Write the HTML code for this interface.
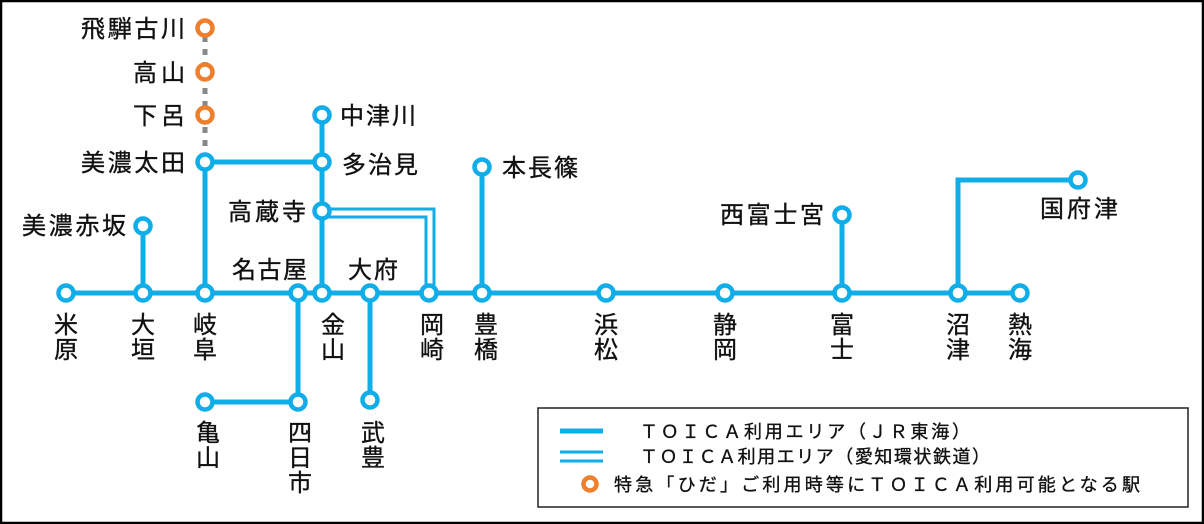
<!DOCTYPE html>
<html><head><meta charset="utf-8"><style>
html,body{margin:0;padding:0;background:#fff}
svg{display:block}
text{font-family:"Liberation Sans","Noto Sans CJK JP",sans-serif;fill:#111;stroke:#111;stroke-width:0.35}
</style></head><body>
<svg width="1204" height="524" viewBox="0 0 1204 524" xmlns="http://www.w3.org/2000/svg">
<rect x="1" y="1" width="1202" height="522" fill="#fff" stroke="#000" stroke-width="2.5"/>
<g stroke="#888" stroke-width="5" stroke-dasharray="6,7" fill="none">
<line x1="205" y1="36" x2="205" y2="155"/>
</g>
<g stroke="#10aee8" stroke-width="5" fill="none" stroke-linejoin="miter">
<line x1="66" y1="293" x2="1020" y2="293"/>
<line x1="143" y1="226" x2="143" y2="293"/>
<polyline points="205,293 205,162 322,162"/>
<line x1="322" y1="115" x2="322" y2="293"/>
<line x1="482" y1="167" x2="482" y2="293"/>
<line x1="842" y1="215" x2="842" y2="293"/>
<polyline points="958,293 958,180 1078,180"/>
<line x1="298" y1="293" x2="298" y2="402"/>
<line x1="298" y1="402" x2="205" y2="402"/>
<line x1="370" y1="293" x2="370" y2="400"/>
</g>
<g stroke="#10aee8" stroke-width="3" fill="none">
<polyline points="322,209 434,209 434,293"/>
<polyline points="322,217 426,217 426,293"/>
</g>
<g fill="#fff" stroke="#10aee8" stroke-width="4.5">
<circle cx="66" cy="293" r="7.5"/><circle cx="143" cy="293" r="7.5"/><circle cx="205" cy="293" r="7.5"/>
<circle cx="298" cy="293" r="7.5"/><circle cx="322" cy="293" r="7.5"/><circle cx="370" cy="293" r="7.5"/>
<circle cx="429" cy="293" r="7.5"/><circle cx="482" cy="293" r="7.5"/><circle cx="606" cy="293" r="7.5"/>
<circle cx="725" cy="293" r="7.5"/><circle cx="842" cy="293" r="7.5"/><circle cx="958" cy="293" r="7.5"/>
<circle cx="1020" cy="293" r="7.5"/>
<circle cx="143" cy="226" r="7.5"/><circle cx="205" cy="162" r="7.5"/><circle cx="322" cy="162" r="7.5"/>
<circle cx="322" cy="115" r="7.5"/><circle cx="322" cy="211" r="7.5"/><circle cx="482" cy="167" r="7.5"/>
<circle cx="842" cy="215" r="7.5"/><circle cx="1078" cy="180" r="7.5"/>
<circle cx="205" cy="402" r="7.5"/><circle cx="298" cy="402" r="7.5"/><circle cx="370" cy="400" r="7.5"/>
</g>
<g fill="#fff" stroke="#ee7f2d" stroke-width="4.5">
<circle cx="205" cy="28" r="7.5"/><circle cx="205" cy="72" r="7.5"/><circle cx="205" cy="115" r="7.5"/>
</g>
<g font-size="24">
<text x="185" y="37" text-anchor="end" textLength="104" lengthAdjust="spacing">飛騨古川</text>
<text x="185" y="81" text-anchor="end" textLength="52" lengthAdjust="spacing">高山</text>
<text x="185" y="124" text-anchor="end" textLength="52" lengthAdjust="spacing">下呂</text>
<text x="185" y="171" text-anchor="end" textLength="104" lengthAdjust="spacing">美濃太田</text>
<text x="126" y="234" text-anchor="end" textLength="104" lengthAdjust="spacing">美濃赤坂</text>
<text x="306" y="220" text-anchor="end" textLength="78" lengthAdjust="spacing">高蔵寺</text>
<text x="340" y="124" textLength="76" lengthAdjust="spacing">中津川</text>
<text x="342" y="173" textLength="76" lengthAdjust="spacing">多治見</text>
<text x="232" y="278" textLength="75" lengthAdjust="spacing">名古屋</text>
<text x="348" y="278" textLength="50" lengthAdjust="spacing">大府</text>
<text x="502" y="176" textLength="76" lengthAdjust="spacing">本長篠</text>
<text x="824" y="223" text-anchor="end" textLength="104" lengthAdjust="spacing">西富士宮</text>
<text x="1040" y="217" textLength="78" lengthAdjust="spacing">国府津</text>
</g>
<g font-size="24" text-anchor="middle">
<text x="66" y="333">米</text><text x="66" y="358">原</text>
<text x="143" y="333">大</text><text x="143" y="358">垣</text>
<text x="205" y="333">岐</text><text x="205" y="358">阜</text>
<text x="333" y="333">金</text><text x="333" y="358">山</text>
<text x="432" y="333">岡</text><text x="432" y="358">崎</text>
<text x="486" y="333">豊</text><text x="486" y="358">橋</text>
<text x="606" y="333">浜</text><text x="606" y="358">松</text>
<text x="725" y="333">静</text><text x="725" y="358">岡</text>
<text x="842" y="333">富</text><text x="842" y="358">士</text>
<text x="958" y="333">沼</text><text x="958" y="358">津</text>
<text x="1020" y="333">熱</text><text x="1020" y="358">海</text>
<text x="208" y="441">亀</text><text x="208" y="466">山</text>
<text x="300" y="441">四</text><text x="300" y="466">日</text><text x="300" y="491">市</text>
<text x="373" y="441">武</text><text x="373" y="466">豊</text>
</g>
<rect x="538" y="408" width="650" height="99" fill="#fff" stroke="#222" stroke-width="1.5"/>
<line x1="560" y1="431" x2="603" y2="431" stroke="#10aee8" stroke-width="5"/>
<line x1="560" y1="452" x2="603" y2="452" stroke="#10aee8" stroke-width="3"/>
<line x1="560" y1="461" x2="603" y2="461" stroke="#10aee8" stroke-width="3"/>
<circle cx="590" cy="484" r="6.5" fill="#fff" stroke="#ee7f2d" stroke-width="4.5"/>
<g font-size="18" style="stroke-width:0.2">
<text x="640" y="438" textLength="330" lengthAdjust="spacing">ＴＯＩＣＡ利用エリア（ＪＲ東海）</text>
<text x="640" y="463" textLength="350" lengthAdjust="spacing">ＴＯＩＣＡ利用エリア（愛知環状鉄道）</text>
<text x="614" y="491" textLength="526" lengthAdjust="spacing">特急「ひだ」ご利用時等にＴＯＩＣＡ利用可能となる駅</text>
</g>
</svg>
</body></html>
